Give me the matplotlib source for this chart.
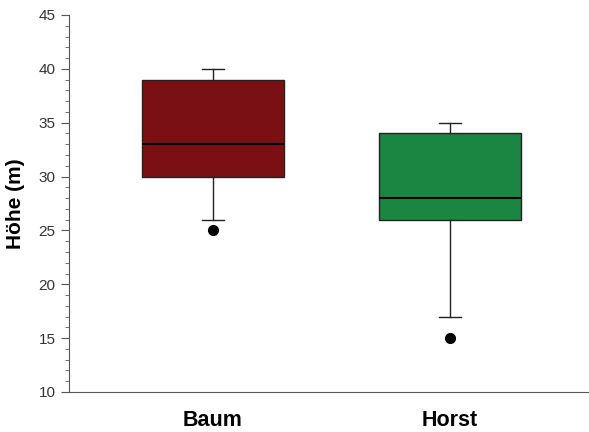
import matplotlib
matplotlib.use("Agg")
import matplotlib.pyplot as plt
from matplotlib.ticker import MultipleLocator

# box statistics
labels = ["Baum", "Horst"]
whislo = [26, 17]
q1 = [30, 26]
med = [33, 28]
q3 = [39, 34]
whishi = [40, 35]
fliers = [[25], [15]]
colors = ["#7a1014", "#1b8542"]

plt.rcParams["font.family"] = ["Liberation Sans", "DejaVu Sans"]

stats = []
for i in range(len(labels)):
    stats.append(dict(label=labels[i], whislo=whislo[i], q1=q1[i], med=med[i],
                      q3=q3[i], whishi=whishi[i], fliers=fliers[i]))

fig = plt.figure(figsize=(5.89, 4.32), dpi=100)
ax = fig.add_axes([0.117, 0.0926, 0.883, 0.8727])

bp = ax.bxp(stats, positions=[1, 2], widths=0.6, capwidths=0.093,
            patch_artist=True, showfliers=True,
            boxprops=dict(linewidth=1.0, edgecolor="#222222"),
            medianprops=dict(color="black", linewidth=1.5),
            whiskerprops=dict(color="#222222", linewidth=1.0),
            capprops=dict(color="#222222", linewidth=1.0),
            flierprops=dict(marker="o", markerfacecolor="black",
                            markeredgecolor="black", markersize=7))
for patch, c in zip(bp["boxes"], colors):
    patch.set_facecolor(c)

ax.set_xlim(0.392, 2.587)
ax.set_ylim(10, 45)
ax.yaxis.set_major_locator(MultipleLocator(5))
ax.yaxis.set_minor_locator(MultipleLocator(1))
ax.spines["top"].set_visible(False)
ax.spines["right"].set_visible(False)
ax.spines["left"].set_color("#555555")
ax.spines["bottom"].set_color("#555555")
ax.tick_params(axis="y", which="major", length=6, color="#555555",
               labelsize=11, labelcolor="#333333")
ax.tick_params(axis="y", which="minor", length=3, color="#555555")
ax.tick_params(axis="x", length=0, pad=13, labelsize=15.5)
for t in ax.get_xticklabels():
    t.set_fontweight("bold")
ax.set_ylabel("Höhe (m)", fontsize=15, fontweight="bold", labelpad=10)

fig.savefig("out.png", dpi=100)
